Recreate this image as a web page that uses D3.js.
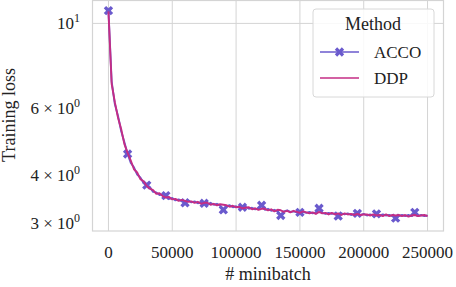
<!DOCTYPE html>
<html>
<head>
<meta charset="utf-8">
<script src="https://cdn.jsdelivr.net/npm/d3@7"></script>
<style>
  body { margin: 0; background: #fff; }
  text { font-family: "Liberation Serif", "DejaVu Serif", serif; fill: #222; }
</style>
</head>
<body>
<div id="chart"></div>
<script>
// data: loss logged every 2500 minibatches
var step = 2500;
var accoLoss = [10.8, 7.05, 6.15, 5.72, 5.22, 4.88, 4.55, 4.31, 4.20, 4.02,
  3.95, 3.82, 3.77, 3.72, 3.62, 3.61, 3.55, 3.57, 3.54, 3.47,
  3.49, 3.44, 3.46, 3.42, 3.39, 3.44, 3.40, 3.42, 3.38, 3.41,
  3.38, 3.36, 3.39, 3.35, 3.37, 3.33, 3.25, 3.32, 3.34, 3.30,
  3.32, 3.29, 3.30, 3.31, 3.27, 3.29, 3.26, 3.28, 3.34, 3.25,
  3.27, 3.23, 3.25, 3.22, 3.14, 3.22, 3.24, 3.21, 3.22, 3.20,
  3.20, 3.21, 3.19, 3.21, 3.18, 3.20, 3.28, 3.19, 3.17, 3.19,
  3.17, 3.18, 3.13, 3.18, 3.16, 3.18, 3.15, 3.17, 3.18, 3.15,
  3.17, 3.14, 3.16, 3.14, 3.17, 3.14, 3.16, 3.14, 3.15, 3.13,
  3.09, 3.13, 3.15, 3.13, 3.15, 3.13, 3.20, 3.13, 3.15, 3.13, 3.14];
var ddpLoss = [10.75, 6.95, 6.22, 5.66, 5.28, 4.83, 4.58, 4.37, 4.15, 4.07,
  3.91, 3.86, 3.75, 3.69, 3.66, 3.58, 3.59, 3.53, 3.50, 3.51,
  3.46, 3.47, 3.43, 3.45, 3.43, 3.41, 3.42, 3.39, 3.41, 3.37,
  3.39, 3.39, 3.35, 3.37, 3.34, 3.36, 3.35, 3.34, 3.31, 3.33,
  3.30, 3.31, 3.28, 3.29, 3.30, 3.26, 3.28, 3.25, 3.27, 3.27,
  3.24, 3.26, 3.22, 3.25, 3.24, 3.21, 3.23, 3.20, 3.23, 3.21,
  3.19, 3.22, 3.20, 3.18, 3.20, 3.17, 3.21, 3.18, 3.19, 3.16,
  3.19, 3.16, 3.18, 3.15, 3.18, 3.16, 3.17, 3.15, 3.17, 3.15,
  3.16, 3.16, 3.14, 3.16, 3.14, 3.15, 3.13, 3.16, 3.13, 3.15,
  3.14, 3.15, 3.13, 3.15, 3.12, 3.14, 3.15, 3.13, 3.14, 3.15, 3.13];
var markEvery = 6;
var xTicks = [0, 50000, 100000, 150000, 200000, 250000];
var yTicks = [3, 4, 6, 10];
var yTickLabels = ["3 \u00d7 10", "4 \u00d7 10", "6 \u00d7 10", "10"];
var yTickExp = ["0", "0", "0", "1"];
var series = [
  { name: "ACCO", values: accoLoss, color: "#6a5acd", marker: true },
  { name: "DDP", values: ddpLoss, color: "#c42d85", marker: false }
];

// main config
var width = 456, height = 287;
var margin = { top: 0.5, right: 12.5, bottom: 56, left: 92.5 };
var gridColor = "#d4d4d4";

var svg = d3.select("#chart").append("svg")
  .attr("width", width)
  .attr("height", height);

var x = d3.scaleLinear()
  .domain([-12500, 262500])
  .range([margin.left, width - margin.right]);
var y = d3.scaleLog()
  .domain([2.86, 11.48])
  .range([height - margin.bottom, margin.top]);

// grid
svg.append("g").selectAll("line")
  .data(xTicks).enter().append("line")
  .attr("x1", function (d) { return x(d); })
  .attr("x2", function (d) { return x(d); })
  .attr("y1", margin.top)
  .attr("y2", height - margin.bottom)
  .attr("stroke", gridColor).attr("stroke-width", 1);
svg.append("line")
  .attr("x1", margin.left).attr("x2", width - margin.right)
  .attr("y1", y(10)).attr("y2", y(10))
  .attr("stroke", gridColor).attr("stroke-width", 1);

// frame
svg.append("rect")
  .attr("x", margin.left).attr("y", margin.top)
  .attr("width", width - margin.right - margin.left)
  .attr("height", height - margin.bottom - margin.top)
  .attr("fill", "none").attr("stroke", gridColor).attr("stroke-width", 1.2);

// x tick labels
svg.append("g").selectAll("text")
  .data(xTicks).enter().append("text")
  .attr("x", function (d) { return x(d); })
  .attr("y", 258)
  .attr("text-anchor", "middle")
  .style("font-size", "17px")
  .text(function (d) { return d; });

// y tick labels (mathtext style)
var yt = svg.append("g").selectAll("text")
  .data(yTicks).enter().append("text")
  .attr("x", 80)
  .attr("y", function (d) { return y(d) + 6; })
  .attr("text-anchor", "end")
  .style("font-size", "17px")
  .style("white-space", "pre")
  .attr("xml:space", "preserve");
yt.append("tspan").text(function (d, i) { return yTickLabels[i]; });
yt.append("tspan")
  .attr("dy", -7)
  .style("font-size", "12px")
  .text(function (d, i) { return yTickExp[i]; });

// axis titles
svg.append("text")
  .attr("x", x(125000)).attr("y", 280)
  .attr("text-anchor", "middle")
  .style("font-size", "18px")
  .text("# minibatch");
svg.append("text")
  .attr("transform", "translate(15," + 115 + ") rotate(-90)")
  .attr("text-anchor", "middle")
  .style("font-size", "18px")
  .text("Training loss");

// lines
var line = d3.line()
  .x(function (d, i) { return x(i * step); })
  .y(function (d) { return y(d); });
var cross = d3.symbol().type(d3.symbolCross).size(55);

series.forEach(function (s) {
  svg.append("path")
    .attr("d", line(s.values))
    .attr("fill", "none")
    .attr("stroke", s.color)
    .attr("stroke-width", 1.9)
    .attr("stroke-linejoin", "round");
  if (s.marker) {
    svg.append("g").selectAll("path")
      .data(s.values.filter(function (d, i) { return i % markEvery === 0; }))
      .enter().append("path")
      .attr("d", cross)
      .attr("fill", s.color)
      .attr("transform", function (d, i) {
        return "translate(" + x(i * markEvery * step) + "," + y(d) + ") rotate(45)";
      });
  }
});

// legend
var lg = svg.append("g").attr("transform", "translate(313,9)");
lg.append("rect")
  .attr("width", 121).attr("height", 88)
  .attr("rx", 3)
  .attr("fill", "rgba(255,255,255,0.85)")
  .attr("stroke", "#d8d8d8");
lg.append("text")
  .attr("x", 60).attr("y", 21)
  .attr("text-anchor", "middle")
  .style("font-size", "18px")
  .text("Method");
series.forEach(function (s, i) {
  var ly = 43 + i * 26;
  lg.append("line")
    .attr("x1", 7).attr("x2", 46)
    .attr("y1", ly).attr("y2", ly)
    .attr("stroke", s.color).attr("stroke-width", 1.7);
  if (s.marker) {
    lg.append("path")
      .attr("d", cross)
      .attr("fill", s.color)
      .attr("transform", "translate(26.5," + ly + ") rotate(45)");
  }
  lg.append("text")
    .attr("x", 61).attr("y", ly + 6)
    .style("font-size", "17px")
    .text(s.name);
});
</script>
</body>
</html>
